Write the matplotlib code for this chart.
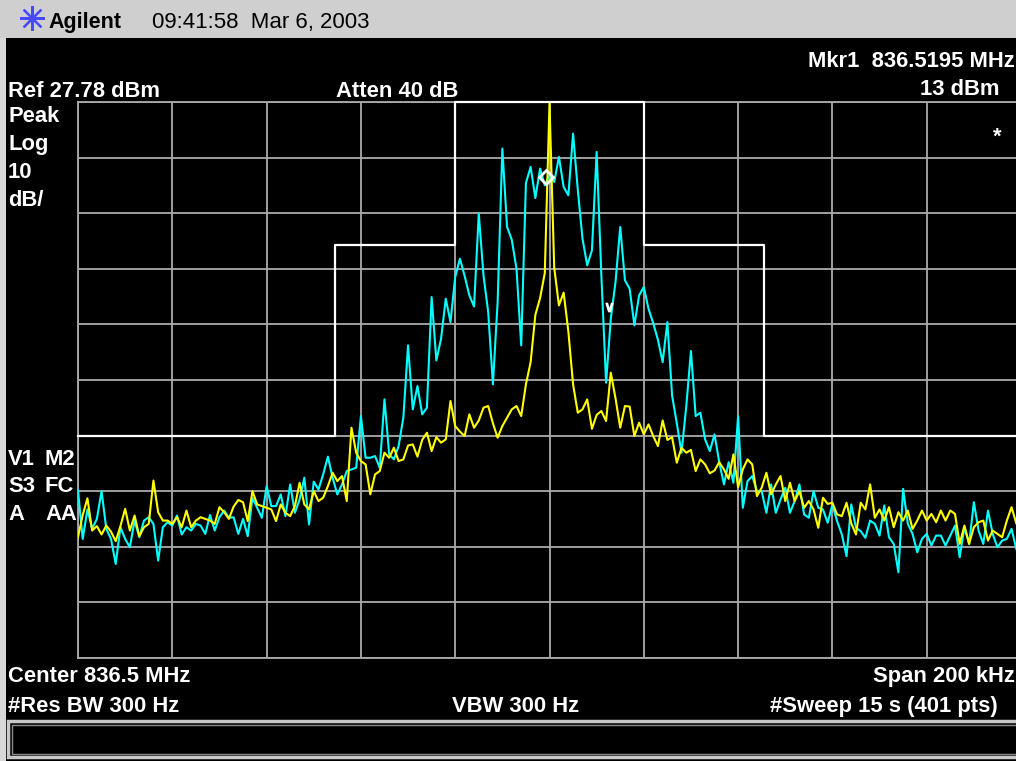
import numpy as np
import matplotlib
matplotlib.use("Agg")
import matplotlib.pyplot as plt
from matplotlib.patches import Rectangle

W, H = 1016, 761

# ---------------- data ----------------
ref_level_dbm = 27.78
db_per_div = 10
n_div = 10
span_khz = 200

freq_offset_khz = np.arange(-100, 101, 1)   # offset from 836.5 MHz centre

trace1_yellow_dbm = [
    -50.5, -46.5, -43.5, -49.3, -48.5, -50.0, -48.4, -49.5, -51.2, -48.5,   # -100..-91
    -45.4, -49.3, -46.6, -50.3, -48.7, -48.1, -40.3, -46.0, -47.5, -47.5,   # -90..-81
    -48.1, -46.9, -48.7, -45.7, -48.7, -47.5, -46.9, -47.2, -47.5, -48.1,   # -80..-71
    -45.1, -46.0, -47.2, -45.0, -43.8, -44.2, -47.6, -42.2, -44.6, -44.9,   # -70..-61
    -45.2, -45.5, -47.6, -44.6, -46.1, -46.7, -44.9, -40.7, -44.6, -45.5,   # -60..-51
    -42.2, -44.0, -43.4, -41.3, -38.9, -40.4, -39.5, -44.0, -30.8, -35.3,   # -50..-41
    -36.8, -37.4, -42.8, -39.2, -38.6, -35.3, -36.2, -34.4, -36.8, -36.5,   # -40..-31
    -34.0, -33.8, -36.0, -33.0, -31.7, -35.0, -32.5, -33.5, -32.9, -26.0,   # -30..-21
    -30.5, -31.5, -32.3, -28.4, -30.8, -29.5, -27.2, -26.9, -30.0, -32.6,   # -20..-11
    -30.5, -29.0, -27.5, -26.9, -28.7, -23.0, -19.0, -10.5, -7.5, -3.0,     # -10..-1
    27.5,                                                                   # 0
    -2.0, -8.8, -6.5, -13.5, -23.0, -28.1, -27.5, -25.7, -31.0, -28.5,      # 1..10
    -27.8, -29.6, -20.9, -25.5, -30.8, -26.9, -27.0, -32.3, -29.9, -32.0,   # 11..20
    -30.2, -32.3, -34.1, -29.5, -33.0, -32.5, -37.1, -34.4, -35.3, -34.8,   # 21..30
    -38.6, -36.5, -37.4, -39.0, -38.5, -37.0, -38.3, -40.0, -35.6, -41.5,   # 31..40
    -38.3, -36.5, -37.4, -43.1, -41.6, -38.9, -42.8, -41.0, -39.5, -44.0,   # 41..50
    -40.7, -44.0, -42.2, -45.2, -44.0, -45.5, -48.8, -43.4, -44.5, -44.3,   # 51..60
    -46.4, -46.7, -44.3, -48.0, -50.0, -44.3, -45.5, -41.0, -47.0, -45.5,   # 61..70
    -47.5, -45.1, -48.7, -46.0, -47.5, -45.7, -49.0, -47.5, -45.7, -47.5,   # 71..80
    -46.3, -47.8, -45.7, -47.5, -45.7, -46.3, -51.7, -48.4, -51.7, -48.7,   # 81..90
    -47.8, -47.5, -51.1, -49.3, -49.9, -50.5, -47.5, -45.1, -48.0, -49.3,   # 91..100
]

trace2_cyan_dbm = [
    -42.1, -50.8, -45.5, -49.0, -47.2, -42.2, -49.0, -50.8, -55.3, -48.7,   # -100..-91
    -50.8, -52.3, -47.5, -50.5, -47.5, -46.9, -48.1, -54.7, -48.7, -47.8,   # -90..-81
    -48.4, -46.6, -50.0, -48.7, -49.3, -48.1, -48.4, -49.9, -46.5, -49.3,   # -80..-71
    -46.9, -45.7, -47.0, -46.9, -49.9, -47.2, -50.3, -43.4, -45.2, -47.0,   # -70..-61
    -41.3, -44.9, -44.9, -42.8, -46.7, -41.0, -46.1, -43.7, -39.8, -48.2,   # -60..-51
    -40.5, -41.9, -39.2, -36.0, -39.8, -42.8, -41.0, -38.6, -38.3, -38.0,   # -50..-41
    -28.7, -36.2, -36.2, -35.9, -38.0, -25.7, -35.6, -36.5, -34.1, -29.0,   # -40..-31
    -16.0, -27.5, -23.3, -28.4, -27.2, -7.3, -18.7, -14.8, -7.6, -11.8,     # -30..-21
    -3.7, -0.4, -3.5, -7.0, -9.0, 7.7, -3.4, -10.0, -23.0, -8.2,            # -20..-11
    19.4, 5.3, 3.0, -2.2, -16.0, 13.2, 16.1, 10.5, 15.8, 12.8,              # -10..-1
    14.6,                                                                   # 0
    13.4, 17.9, 12.5, 11.0, 22.1, 12.0, 3.2, -1.6, 1.1, 18.8,               # 1..10
    -3.4, -22.7, -11.2, -4.6, 5.3, -4.3, -5.8, -12.4, -7.0, -5.5,           # 11..20
    -9.4, -12.0, -15.0, -19.0, -11.8, -25.0, -30.0, -35.3, -27.0, -17.0,    # 21..30
    -28.7, -28.1, -32.9, -35.0, -32.0, -37.0, -41.0, -37.0, -40.7, -28.7,   # 31..40
    -45.2, -40.4, -39.5, -42.2, -42.2, -46.1, -41.0, -46.1, -43.7, -41.6,   # 41..50
    -46.1, -44.0, -41.0, -46.4, -47.0, -42.2, -45.2, -45.5, -47.9, -44.6,   # 51..60
    -47.6, -50.0, -53.9, -44.6, -48.8, -49.4, -50.6, -47.5, -48.1, -50.2,   # 61..70
    -44.8, -50.5, -51.7, -56.8, -41.8, -48.1, -49.9, -53.2, -50.8, -49.9,   # 71..80
    -52.0, -50.2, -50.2, -52.0, -50.2, -48.4, -54.1, -48.7, -51.7, -44.2,   # 81..90
    -49.3, -51.7, -45.7, -49.9, -52.3, -51.1, -50.8, -49.0, -52.6, -54.7,   # 91..100
]

mask_freq_khz = [-100, -45.5, -45.5, -20, -20, 20, 20, 45.5, 45.5, 100]
mask_level_dbm = [-32.22, -32.22, 2.0, 2.0, 27.78, 27.78, 2.0, 2.0, -32.22, -32.22]

mkr1_freq_khz, mkr1_level_dbm = -0.7, 14.3
mkr2_freq_khz, mkr2_level_dbm = 12.6, -9.1

# ---------------- figure ----------------
FONT = "Liberation Sans"
fig = plt.figure(figsize=(W / 100, H / 100), dpi=100, facecolor="black")


def fx(x):
    return x / W


def fy(y):
    return 1 - y / H


# top title bar
fig.patches.append(Rectangle((0, fy(38)), 1, 38 / H, transform=fig.transFigure,
                             facecolor="#cfcfcf", edgecolor="none", zorder=0))
# left light strip
fig.patches.append(Rectangle((0, 0), fx(6), fy(38), transform=fig.transFigure,
                             facecolor="#d8d8d8", edgecolor="none", zorder=0))
# bottom message box
fig.patches.append(Rectangle((fx(8), fy(757)), fx(1016 - 8) + 0.01, (757 - 721) / H,
                             transform=fig.transFigure, facecolor="black",
                             edgecolor="#c8c8c8", linewidth=2.5, zorder=1))
fig.patches.append(Rectangle((fx(12), fy(754)), fx(1016 - 12) + 0.01, (754 - 725) / H,
                             transform=fig.transFigure, facecolor="none",
                             edgecolor="#8a8a8a", linewidth=1.0, zorder=1))

ax = fig.add_axes([fx(78), fy(658), 943 / W, 556 / H])
ax.set_facecolor("black")
ax.set_xlim(-span_khz / 2, span_khz / 2)
ax.set_ylim(ref_level_dbm - n_div * db_per_div, ref_level_dbm)
ax.set_xticks(np.linspace(-span_khz / 2, span_khz / 2, n_div + 1))
ax.set_yticks(np.linspace(ref_level_dbm - n_div * db_per_div, ref_level_dbm, n_div + 1))
ax.grid(True, color="#ababab", linewidth=1.3)
ax.tick_params(length=0, labelbottom=False, labelleft=False)
for s in ax.spines.values():
    s.set_color("#ababab")
    s.set_linewidth(1.3)
ax.set_axisbelow(True)

ax.plot(freq_offset_khz, trace2_cyan_dbm, color="#00ffff", linewidth=1.5, zorder=3)
ax.plot(freq_offset_khz, trace1_yellow_dbm, color="#ffff00", linewidth=1.5, zorder=4)
ax.plot(mask_freq_khz, mask_level_dbm, color="white", linewidth=1.6, zorder=5,
        clip_on=False)
ax.plot([mkr1_freq_khz], [mkr1_level_dbm], marker="D", markersize=7,
        markerfacecolor="none", markeredgecolor="white", markeredgewidth=2, zorder=6)
ax.plot([mkr2_freq_khz], [mkr2_level_dbm], marker=r"$\vee$", markersize=6,
        color="white", zorder=6)

# logo
fig.add_artist(plt.Line2D([fx(32)], [fy(18)], marker=(8, 2, 0), markersize=18,
                          color="#4848ff", markeredgewidth=1.6, transform=fig.transFigure))
fig.add_artist(plt.Line2D([fx(32)], [fy(18)], marker="o", markersize=3,
                          color="#4848ff", transform=fig.transFigure))


def t(x, y, s, ha="left", color="white", weight="bold", size=15.8):
    fig.text(fx(x), fy(y), s, ha=ha, va="baseline", color=color,
             fontfamily=FONT, fontweight=weight, fontsize=size)


t(48, 28, "Agilent", color="black", size=15.5)
t(152, 28, "09:41:58  Mar 6, 2003", color="black", weight="normal", size=16)
t(1015, 67, "Mkr1  836.5195 MHz", ha="right")
t(1000, 95, "13 dBm", ha="right")
t(8, 97, "Ref 27.78 dBm")
t(336, 97, "Atten 40 dB")
t(8, 122, "Peak")
t(8, 150, "Log")
t(8, 178, "10")
t(8, 206, "dB/")
t(8, 465, "V1")
t(45, 465, "M2")
t(8, 492, "S3")
t(45, 492, "FC")
t(8, 520, "A")
t(45, 520, "AA")
t(997, 143, "*", ha="center")
t(8, 682, "Center 836.5 MHz")
t(1015, 682, "Span 200 kHz", ha="right")
t(8, 712, "#Res BW 300 Hz")
t(452, 712, "VBW 300 Hz")
t(998, 712, "#Sweep 15 s (401 pts)", ha="right")

fig.savefig("out.png", dpi=100, facecolor="black")
